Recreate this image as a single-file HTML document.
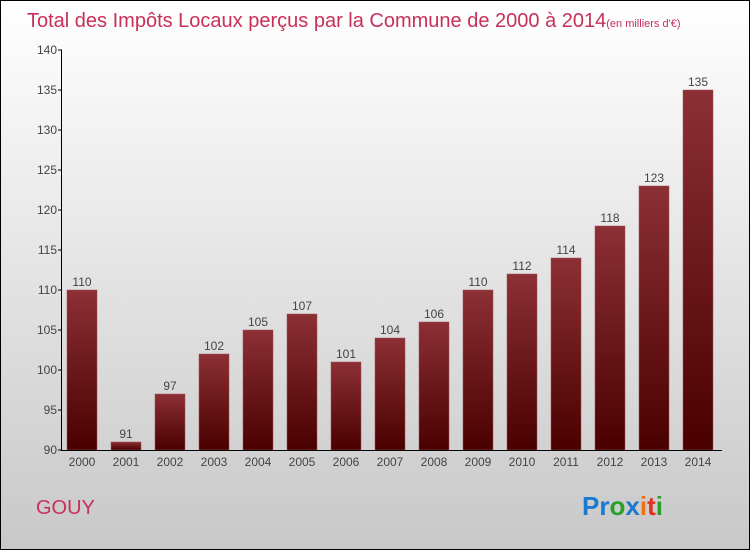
<!DOCTYPE html>
<html><head><meta charset="utf-8"><style>
body{margin:0;width:750px;height:550px;overflow:hidden}
svg{display:block;font-family:"Liberation Sans",sans-serif}
</style></head><body>
<svg width="750" height="550">
<defs>
<linearGradient id="bg" x1="0" y1="0" x2="0" y2="1"><stop offset="0" stop-color="#ffffff"/><stop offset="1" stop-color="#c8c8c8"/></linearGradient>
<linearGradient id="bar" x1="0" y1="0" x2="0" y2="1"><stop offset="0" stop-color="#8c3035"/><stop offset="1" stop-color="#4a0000"/></linearGradient>
</defs>
<rect x="0.5" y="0.5" width="749" height="549" fill="url(#bg)" stroke="#000"/>
<text x="27" y="27" font-size="20" fill="#c8305a">Total des Impôts Locaux perçus par la Commune de 2000 à 2014<tspan font-size="11">(en milliers d'€)</tspan></text>
<g id="plot"></g>
<text x="36" y="514" font-size="20" fill="#c8305a">GOUY</text>
<text x="582" y="515" font-size="26" font-weight="bold"><tspan fill="#1a7ad0">Pr</tspan><tspan fill="#2aa02a">o</tspan><tspan fill="#1a7ad0">x</tspan><tspan fill="#f07010">i</tspan><tspan fill="#e03020">t</tspan><tspan fill="#2aa02a">i</tspan></text>
</svg>
<script>
const years=["2000","2001","2002","2003","2004","2005","2006","2007","2008","2009","2010","2011","2012","2013","2014"];
const values=[110,91,97,102,105,107,101,104,106,110,112,114,118,123,135];
const yTicks=[90,95,100,105,110,115,120,125,130,135,140];
const NS="http://www.w3.org/2000/svg";
const g=document.getElementById('plot');
const y0=450,yMin=90,yMax=140,yTop=50;
const yS=v=>y0-(v-yMin)*(y0-yTop)/(yMax-yMin);
const xS=i=>82+i*44;
function mk(t,a){const e=document.createElementNS(NS,t);for(const k in a)e.setAttribute(k,a[k]);g.appendChild(e);return e;}
values.forEach((v,i)=>{
 const r=mk('rect',{x:xS(i)-15,y:yS(v),width:30,height:y0-yS(v),fill:'url(#bar)',stroke:'#a05050','stroke-width':0.5});
 
 
 const t=mk('text',{x:xS(i),y:yS(v)-4,'font-size':12,fill:'#444','text-anchor':'middle'});
 t.textContent=v;
 
 
 const xl=mk('text',{x:xS(i),y:466,'font-size':12,fill:'#444','text-anchor':'middle'});
 xl.textContent=years[i];
 
 
});
yTicks.forEach(v=>{
 const tk=mk('line',{x1:58,x2:62,y1:yS(v),y2:yS(v),stroke:'#000'});
 
 
 const l=mk('text',{x:57,y:yS(v)+4,'font-size':12,fill:'#444','text-anchor':'end'});
 l.textContent=v;
 
 
});
const ya=mk('line',{x1:61.5,x2:61.5,y1:yTop,y2:y0,stroke:'#000'});


const xa=mk('line',{x1:61,x2:722,y1:y0+0.5,y2:y0+0.5,stroke:'#000'});


</script>
</body></html>
